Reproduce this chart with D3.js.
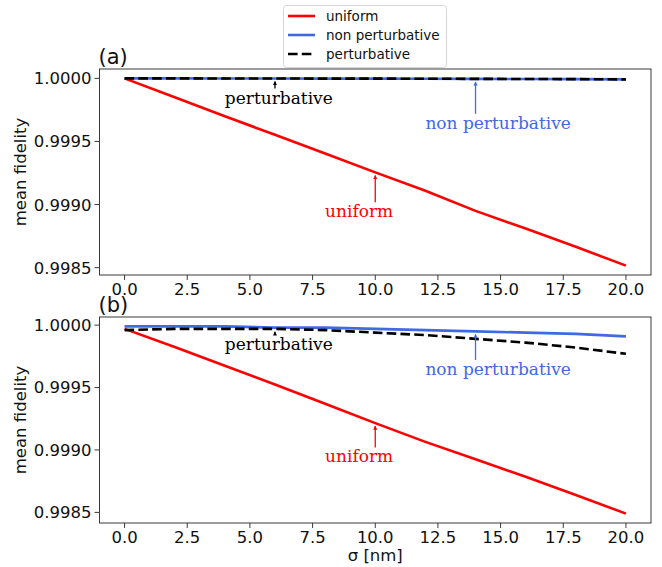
<!DOCTYPE html>
<html>
<head>
<meta charset="utf-8">
<script src="https://cdn.jsdelivr.net/npm/d3@7"></script>
<style>
  body { margin: 0; background: #fff; }
  svg { display: block; }
</style>
</head>
<body>
<div id="chart"></div>
<script>
// sigma values in nm
var sigma = [0, 2, 4, 6, 8, 10, 12, 14, 16, 18, 20];

// panel (a)
var uniformA = [1.0, 0.999850, 0.999700, 0.999553, 0.999405, 0.999255, 0.999110, 0.998950, 0.998810, 0.998665, 0.998516];
var nonPertA = [1.0, 1.0, 0.999999, 0.999999, 0.999998, 0.999998, 0.999997, 0.999996, 0.999995, 0.999994, 0.999992];
var pertA    = [1.0, 1.0, 0.999999, 0.999999, 0.999998, 0.999998, 0.999997, 0.999996, 0.999995, 0.999994, 0.999992];

// panel (b)
var uniformB = [0.99997, 0.999825, 0.999675, 0.999525, 0.999370, 0.999215, 0.999065, 0.998925, 0.998785, 0.998640, 0.998490];
var nonPertB = [0.99999, 0.99999, 0.99999, 0.99998, 0.99998, 0.99997, 0.99996, 0.99995, 0.99994, 0.99993, 0.99991];
var pertB    = [0.99996, 0.99997, 0.99997, 0.99997, 0.99996, 0.99994, 0.99992, 0.99989, 0.99986, 0.99982, 0.99977];

var xTicks = [0, 2.5, 5, 7.5, 10, 12.5, 15, 17.5, 20];
var yTicks = [0.9985, 0.9990, 0.9995, 1.0000];
var seriesNames = ['uniform', 'non perturbative', 'perturbative'];
var seriesColors = ['#ff0000', '#4169e1', '#000000'];

// annotation: [label, sigma of arrow tip, series index, text sigma, text baseline value]
var notes = [
  ['perturbative', 6, 2, 4, 0.9998],
  ['non perturbative', 14, 1, 12, 0.9996],
  ['uniform', 10, 0, 8, 0.9989]
];

var W = 662, H = 567;
var left = 99.5, right = 651;

var svg = d3.select('#chart').append('svg')
    .attr('width', W)
    .attr('height', H);

var defs = svg.append('defs');
seriesColors.forEach(function(c, i) {
  defs.append('marker')
      .attr('id', 'head' + i)
      .attr('viewBox', '0 0 10 10')
      .attr('refX', 9)
      .attr('refY', 5)
      .attr('markerWidth', 3.2)
      .attr('markerHeight', 3.2)
      .attr('orient', 'auto')
      .append('path')
      .attr('d', 'M0,0 L10,5 L0,10 z')
      .attr('fill', c);
});

var x = d3.scaleLinear().domain([-1, 21]).range([left, right]);

function drawPanel(top, bottom, series, tag) {
  var all = d3.merge(series);
  var lo = d3.min(all), hi = d3.max(all);
  var pad = (hi - lo) * 0.05;
  var y = d3.scaleLinear().domain([lo - pad, hi + pad]).range([bottom, top]);

  var g = svg.append('g');

  var line = d3.line()
      .x(function(d, i) { return x(sigma[i]); })
      .y(function(d) { return y(d); });

  g.selectAll('path.series')
      .data(series)
      .enter()
      .append('path')
      .attr('class', 'series')
      .attr('d', line)
      .attr('fill', 'none')
      .attr('stroke', function(d, i) { return seriesColors[i]; })
      .attr('stroke-width', 2.6)
      .attr('stroke-dasharray', function(d, i) { return i == 2 ? '9.6,4.2' : null; });

  // frame
  g.append('rect')
      .attr('x', left)
      .attr('y', top)
      .attr('width', right - left)
      .attr('height', bottom - top)
      .attr('fill', 'none')
      .attr('stroke', '#3a3a3a')
      .attr('stroke-width', 1);

  // x axis
  var xa = g.selectAll('g.xt')
      .data(xTicks)
      .enter()
      .append('g')
      .attr('transform', function(d) { return 'translate(' + x(d) + ',' + bottom + ')'; });
  xa.append('line')
      .attr('y2', 5)
      .attr('stroke', '#3a3a3a');
  xa.append('text')
      .attr('y', 20)
      .attr('text-anchor', 'middle')
      .style('font', '16.5px "DejaVu Sans"')
      .attr('fill', '#111')
      .text(function(d) { return d3.format('.1f')(d); });

  // y axis
  var ya = g.selectAll('g.yt')
      .data(yTicks)
      .enter()
      .append('g')
      .attr('transform', function(d) { return 'translate(' + left + ',' + y(d) + ')'; });
  ya.append('line')
      .attr('x2', -5)
      .attr('stroke', '#3a3a3a');
  ya.append('text')
      .attr('x', -8)
      .attr('dy', '0.36em')
      .attr('text-anchor', 'end')
      .style('font', '16.5px "DejaVu Sans"')
      .attr('fill', '#111')
      .text(function(d) { return d3.format('.4f')(d); });

  g.append('text')
      .attr('transform', 'translate(26,' + ((top + bottom) / 2) + ') rotate(-90)')
      .attr('text-anchor', 'middle')
      .style('font', '16.5px "DejaVu Sans"')
      .attr('fill', '#111')
      .text('mean fidelity');

  g.append('text')
      .attr('x', left - 1)
      .attr('y', top - 5)
      .style('font', '21px "DejaVu Sans"')
      .attr('fill', '#111')
      .text(tag);

  // annotations
  notes.forEach(function(n) {
    var idx = sigma.indexOf(n[1]);
    var tipY = y(series[n[2]][idx]);
    var baseY = y(n[4]);
    var c = seriesColors[n[2]];
    g.append('text')
        .attr('x', x(n[3]))
        .attr('y', baseY)
        .style('font', '17px "DejaVu Serif"')
        .attr('fill', c)
        .text(n[0]);
    g.append('line')
        .attr('x1', x(n[1]))
        .attr('x2', x(n[1]))
        .attr('y1', baseY - 15)
        .attr('y2', tipY + 3)
        .attr('stroke', c)
        .attr('stroke-width', 1.3)
        .attr('marker-end', 'url(#head' + n[2] + ')');
  });
}

drawPanel(69, 275, [uniformA, nonPertA, pertA], '(a)');
drawPanel(317, 523, [uniformB, nonPertB, pertB], '(b)');

svg.append('text')
    .attr('x', (left + right) / 2)
    .attr('y', 561)
    .attr('text-anchor', 'middle')
    .style('font', '16.5px "DejaVu Sans"')
    .attr('fill', '#111')
    .text('σ [nm]');

// legend
var lg = svg.append('g');
lg.append('rect')
    .attr('x', 283.5)
    .attr('y', 5.5)
    .attr('width', 163)
    .attr('height', 62)
    .attr('rx', 3)
    .attr('fill', 'rgba(255,255,255,0.85)')
    .attr('stroke', '#d6d6d6');

var item = lg.selectAll('g.item')
    .data(seriesNames)
    .enter()
    .append('g')
    .attr('transform', function(d, i) { return 'translate(0,' + (16 + i * 19) + ')'; });
item.append('line')
    .attr('x1', 288)
    .attr('x2', 315)
    .attr('stroke', function(d, i) { return seriesColors[i]; })
    .attr('stroke-width', 2.6)
    .attr('stroke-dasharray', function(d, i) { return i == 2 ? '9.6,4.2' : null; });
item.append('text')
    .attr('x', 326)
    .attr('dy', '0.35em')
    .style('font', '13.5px "DejaVu Sans"')
    .attr('fill', '#111')
    .text(function(d) { return d; });
</script>
</body>
</html>
